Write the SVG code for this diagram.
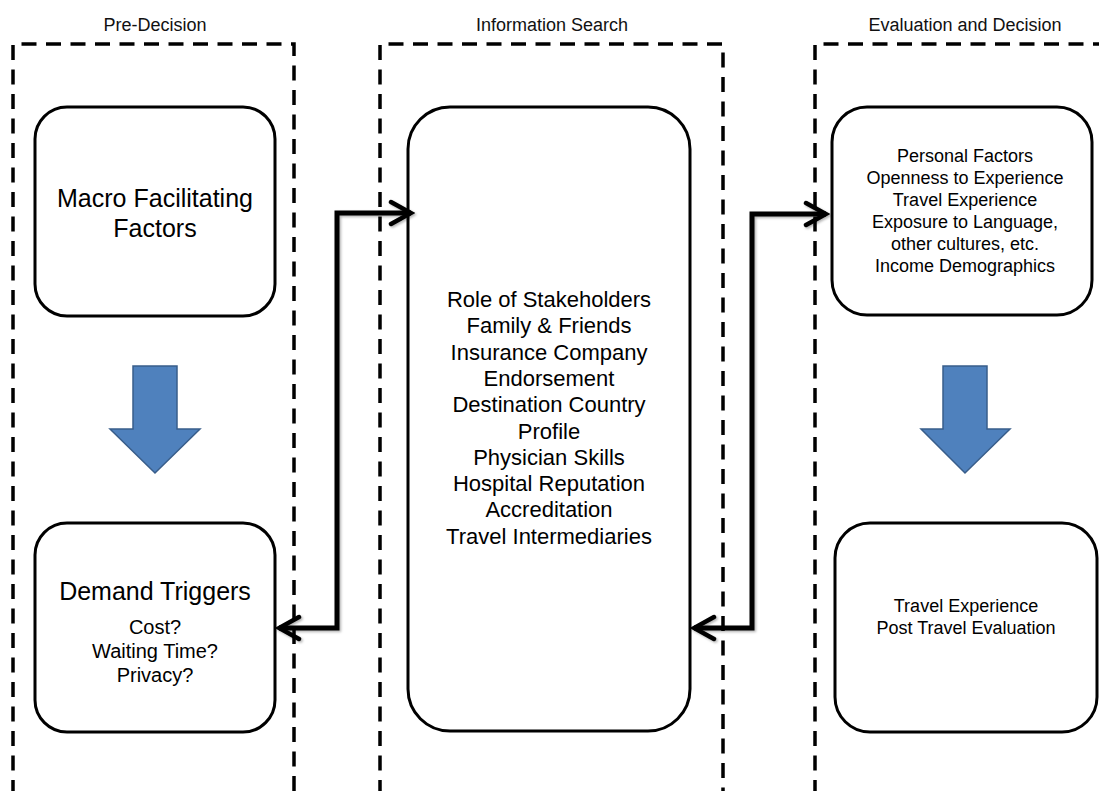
<svg xmlns="http://www.w3.org/2000/svg" width="1099" height="791" viewBox="0 0 1099 791">
  <style>
    .phase { fill: none; stroke: #000; stroke-width: 3.5; stroke-dasharray: 15 9.5; }
    .node { fill: #fff; stroke: #000; stroke-width: 3; }
    .blk { fill: #4F81BD; stroke: #385D8A; stroke-width: 1.5; }
    .conn { fill: none; stroke: #000; stroke-width: 5; stroke-linejoin: miter; }
    text { font-family: "Liberation Sans", Arial, sans-serif; fill: #000; text-anchor: middle; }
    .hdr { font-size: 18px; fill: #111; }
    .big { font-size: 25px; }
    .mid { font-size: 22px; }
    .sm20 { font-size: 20px; }
    .sm18 { font-size: 18px; }
  </style>
  <defs>
    <marker id="open" markerUnits="userSpaceOnUse" viewBox="-24 -14 28 28" refX="0" refY="0" markerWidth="28" markerHeight="28" orient="auto-start-reverse">
      <path d="M-20,-11 L0,0 L-20,11" fill="none" stroke="#000" stroke-width="4.5" stroke-linecap="round" stroke-linejoin="miter"/>
    </marker>
    <filter id="sh" x="-10%" y="-10%" width="120%" height="120%">
      <feDropShadow dx="1.5" dy="1.5" stdDeviation="1.2" flood-color="#000" flood-opacity="0.3"/>
    </filter>
  </defs>

  <g id="phases">
    <path class="phase" d="M13,795 L13,44 L294,44 L294,795"/>
    <path class="phase" d="M380,795 L380,44 L723,44 L723,795"/>
    <path class="phase" d="M815,795 L815,44 L1105,44"/>
    <text class="hdr" x="155" y="31">Pre-Decision</text>
    <text class="hdr" x="552" y="31">Information Search</text>
    <text class="hdr" x="965" y="31">Evaluation and Decision</text>
  </g>

  <g id="macro">
    <rect class="node" x="35" y="107" width="240" height="209" rx="32" ry="32"/>
    <text class="big" x="155" y="207">Macro Facilitating</text>
    <text class="big" x="155" y="237">Factors</text>
  </g>

  <g id="arrow-left">
    <polygon class="blk" points="133,366 177,366 177,429 200,429 155,473 110,429 133,429"/>
  </g>

  <g id="demand">
    <rect class="node" x="35" y="523" width="240" height="209" rx="32" ry="32"/>
    <text class="big" x="155" y="600">Demand Triggers</text>
    <text class="sm20" x="155" y="634">Cost?</text>
    <text class="sm20" x="155" y="658">Waiting Time?</text>
    <text class="sm20" x="155" y="682">Privacy?</text>
  </g>

  <g id="info">
    <rect class="node" x="408" y="107" width="282" height="624" rx="42" ry="42"/>
    <text class="mid" x="549" y="307">Role of Stakeholders</text>
    <text class="mid" x="549" y="333.3">Family &amp; Friends</text>
    <text class="mid" x="549" y="359.6">Insurance Company</text>
    <text class="mid" x="549" y="385.9">Endorsement</text>
    <text class="mid" x="549" y="412.2">Destination Country</text>
    <text class="mid" x="549" y="438.5">Profile</text>
    <text class="mid" x="549" y="464.8">Physician Skills</text>
    <text class="mid" x="549" y="491.1">Hospital Reputation</text>
    <text class="mid" x="549" y="517.4">Accreditation</text>
    <text class="mid" x="549" y="543.7">Travel Intermediaries</text>
  </g>

  <g id="personal">
    <rect class="node" x="832" y="107" width="260" height="208" rx="35" ry="35"/>
    <text class="sm18" x="965" y="162">Personal Factors</text>
    <text class="sm18" x="965" y="184">Openness to Experience</text>
    <text class="sm18" x="965" y="206">Travel Experience</text>
    <text class="sm18" x="965" y="228">Exposure to Language,</text>
    <text class="sm18" x="965" y="250">other cultures, etc.</text>
    <text class="sm18" x="965" y="272">Income Demographics</text>
  </g>

  <g id="arrow-right">
    <polygon class="blk" points="943,366 987,366 987,429 1010,429 965,473 921,429 943,429"/>
  </g>

  <g id="travel">
    <rect class="node" x="835" y="523" width="262" height="209" rx="35" ry="35"/>
    <text class="sm18" x="966" y="612">Travel Experience</text>
    <text class="sm18" x="966" y="634">Post Travel Evaluation</text>
  </g>

  <g id="connectors" filter="url(#sh)">
    <path class="conn" d="M279,628 L337,628 L337,213 L411,213" marker-start="url(#open)" marker-end="url(#open)"/>
    <path class="conn" d="M694,628 L752,628 L752,214 L826,214" marker-start="url(#open)" marker-end="url(#open)"/>
  </g>
</svg>
